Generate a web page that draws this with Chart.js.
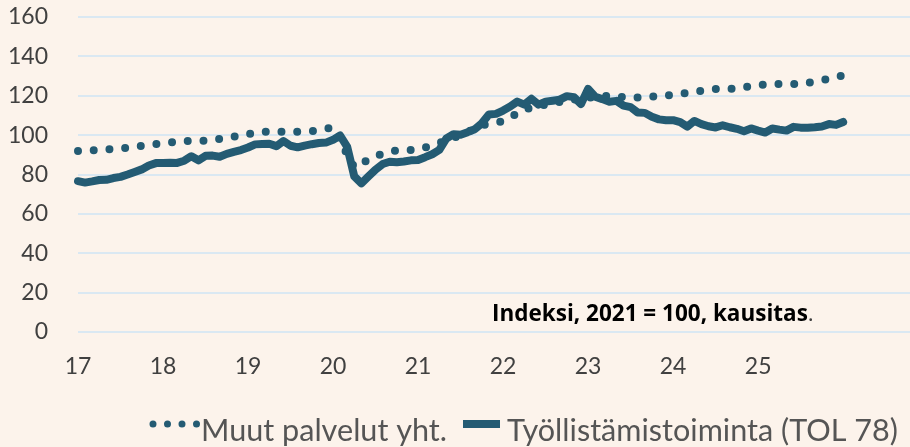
<!DOCTYPE html>
<html>
<head>
<meta charset="utf-8">
<script src="https://cdn.jsdelivr.net/npm/chart.js@4.4.0/dist/chart.umd.min.js"></script>
<style>
html, body { margin: 0; padding: 0; background: #FCF3EB; }
#wrap { width: 910px; height: 447px; overflow: hidden; }
</style>
</head>
<body>
<div id="wrap"><canvas id="canvas" width="914" height="447"></canvas></div>
<script>
// vuosien tunnukset x-akselille (tammikuu kunkin vuoden kohdalla)
const vuodet = ["17", "18", "19", "20", "21", "22", "23", "24", "25"];
const alkuVuosi = 2017;
const kuukausiaAkselilla = 119; // akseli jatkuu hieman viimeisen havainnon yli

// Työllistämistoiminta (TOL 78), kuukausittain 2017M01 - 2026M01
const tyollistaminen = [
    76.6, 75.9, 76.5, 77.2, 77.3, 78.2, 78.8, 80.0, 81.3, 82.6, 84.6, 85.8,
    85.9, 86.0, 85.9, 87.0, 89.3, 87.2, 89.5, 89.6, 89.0, 90.5, 91.5, 92.4,
    93.7, 95.3, 95.5, 95.6, 94.4, 97.0, 94.6, 93.8, 94.7, 95.4, 96.0, 96.2,
    97.6, 99.8, 94.0, 79.0, 75.5, 79.0, 82.5, 85.3, 86.5, 86.2, 86.6, 87.2,
    87.4, 88.8, 90.3, 92.5, 98.3, 100.5, 100.2, 101.5, 103.0, 106.0, 110.5, 110.8,
    112.5, 114.5, 117.0, 115.5, 118.5, 115.5, 117.0, 117.5, 118.0, 119.8, 119.3, 115.8,
    123.5, 119.5, 118.3, 117.0, 117.4, 115.0, 114.2, 111.5, 111.3, 109.3, 108.0, 107.6,
    107.6, 106.6, 104.3, 107.2, 105.6, 104.5, 103.9, 105.0, 104.0, 103.2, 102.0, 103.4,
    102.3, 101.3, 103.4, 102.8, 102.3, 104.2, 103.8, 103.7, 104.0, 104.4, 105.6, 105.2,
    106.7
];

// Muut palvelut yht., neljännesvuosittain luettuna (joka 3. kuukausi alkaen 2017M01)
const muutPalvelut = [
    91.9, 92.5, 93.2, 94.5,
    95.9, 97.0, 97.1, 98.5,
    100.6, 102.0, 101.6, 102.0,
    103.9, 83.5, 89.5, 92.3,
    92.6, 96.0, 100.0, 105.0,
    107.0, 113.0, 115.5, 117.5,
    119.0, 120.0, 119.0, 119.5,
    120.5, 122.0, 123.4, 123.6,
    125.5, 126.0, 126.0, 127.8,
    130.3
];

function kuukausiTunnukset(n){
    let lista = [];
    for (let i = 0; i < n; i++){
        let v = alkuVuosi + Math.floor(i / 12);
        let k = (i % 12) + 1;
        lista.push(v + "M" + (k < 10 ? "0" + k : k));
    }
    return lista;
}
function neljannesKuukausiksi(arvot){
    // sijoitetaan neljännesarvot oikeille kuukausille, välit tyhjiä
    let lista = [];
    arvot.forEach((a, i) => {
        lista[i * 3] = a;
        if (i < arvot.length - 1){ lista[i * 3 + 1] = null; lista[i * 3 + 2] = null; }
    });
    return lista;
}

const sininen = "#245B73";
const harmaa = "#404040";

// teksti kuvaajan sisällä
const teksti = {
    id: "indeksiTeksti",
    afterDraw(chart){
        const ctx = chart.ctx;
        ctx.save();
        ctx.textBaseline = "alphabetic";
        ctx.textAlign = "left";
        ctx.font = "bold 22.5px 'Open Sans'";
        ctx.fillStyle = "#000000";
        const osa1 = "Indeksi, 2021 = 100, kausitas";
        ctx.fillText(osa1, 492, 321);
        const w = ctx.measureText(osa1).width;
        ctx.font = "22.5px 'Open Sans'";
        ctx.fillStyle = harmaa;
        ctx.fillText(".", 492 + w, 321);
        ctx.restore();
    }
};

// oma selite alareunaan, merkin ja tekstin väli kapeampi kuin Chart.js:n omassa
const selite = {
    id: "omaSelite",
    afterDraw(chart){
        const ctx = chart.ctx;
        const ds = chart.data.datasets;
        ctx.save();
        // fonttikoko niin, että pidempi teksti on n. 391 px leveä
        ctx.font = "32px Lato";
        const koko = 32 * 391 / ctx.measureText(ds[1].label).width;
        ctx.font = koko.toFixed(1) + "px Lato";
        ctx.fillStyle = "#555555";
        ctx.textBaseline = "alphabetic";
        ctx.fillText(ds[0].label, 201, 441);
        ctx.fillText(ds[1].label, 507, 441);

        ctx.strokeStyle = ds[0].borderColor;
        ctx.lineWidth = 7;
        ctx.lineCap = "round";
        ctx.setLineDash([0, 14.5]);
        ctx.beginPath();
        ctx.moveTo(153, 424);
        ctx.lineTo(197, 424);
        ctx.stroke();

        ctx.setLineDash([]);
        ctx.lineCap = "butt";
        ctx.lineWidth = 8;
        ctx.strokeStyle = ds[1].borderColor;
        ctx.beginPath();
        ctx.moveTo(463, 424);
        ctx.lineTo(500, 424);
        ctx.stroke();
        ctx.restore();
    }
};

let data = {
    labels: kuukausiTunnukset(kuukausiaAkselilla),
    datasets: [{
        label: "Muut palvelut yht.",
        data: neljannesKuukausiksi(muutPalvelut),
        borderColor: sininen,
        backgroundColor: sininen,
        borderWidth: 8,
        borderDash: [0, 15.75],
        borderCapStyle: "round",
        spanGaps: true,
        pointRadius: 0,
        tension: 0,
        order: 1
    }, {
        label: "Työllistämistoiminta (TOL 78)",
        data: tyollistaminen,
        borderColor: sininen,
        backgroundColor: sininen,
        borderWidth: 8,
        borderCapStyle: "round",
        borderJoinStyle: "round",
        pointRadius: 0,
        tension: 0,
        order: 0
    }]
};

let options = {
    responsive: false,
    animation: false,
    layout: { padding: { top: 17, right: 0, left: 0, bottom: 50 } },
    scales: {
        x: {
            type: "category",
            grid: { display: false },
            border: { display: false },
            ticks: {
                autoSkip: false,
                maxRotation: 0,
                color: harmaa,
                font: { family: "Lato", size: 23 },
                padding: 13,
                callback: function(val, i){
                    if (i % 12 === 0 && vuodet[i / 12]) return vuodet[i / 12];
                    return null;
                }
            },
            afterFit(s){ s.height = 65; s.paddingLeft = 0; s.paddingRight = 0; }
        },
        y: {
            min: 0,
            max: 160,
            grid: { color: "#DAE8F2", lineWidth: 2, drawTicks: false },
            border: { display: false },
            ticks: {
                stepSize: 20,
                color: harmaa,
                font: { family: "Lato", size: 23 },
                padding: 30
            },
            afterFit(s){ s.width = 78; s.paddingTop = 0; s.paddingBottom = 0; }
        }
    },
    plugins: {
        legend: { display: false },
        tooltip: { enabled: false }
    }
};

Chart.defaults.font.family = "Lato";
new Chart(document.getElementById("canvas").getContext("2d"), {
    type: "line",
    data: data,
    options: options,
    plugins: [teksti, selite]
});
</script>
</body>
</html>
